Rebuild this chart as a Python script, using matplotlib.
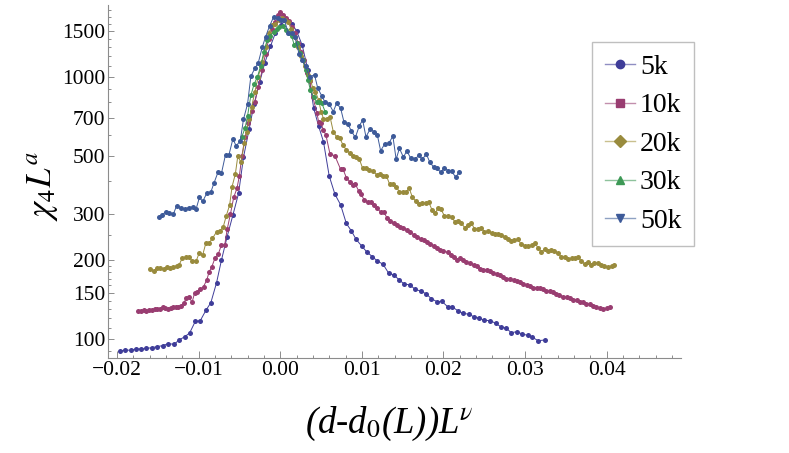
import matplotlib
matplotlib.use('Agg')
import matplotlib.pyplot as plt
from matplotlib.lines import Line2D
from matplotlib.ticker import FixedLocator, FixedFormatter, FuncFormatter, NullFormatter, MultipleLocator

plt.rcParams['font.family'] = ['Liberation Serif', 'DejaVu Serif']
plt.rcParams['mathtext.fontset'] = 'stix'

# (scaled distance, chi_4 L^a)
k5 = [(-0.0196, 90.0), (-0.0190, 90.8), (-0.0183, 90.5), (-0.0177, 91.6), (-0.0170, 91.6),
      (-0.0164, 92.1), (-0.0157, 92.6), (-0.0151, 93.5), (-0.0144, 94.3), (-0.0137, 96.0),
      (-0.0130, 95.4), (-0.0124, 99.1), (-0.0117, 102), (-0.0111, 105.4), (-0.0104, 116.8),
      (-0.0098, 117.4), (-0.0091, 128.7), (-0.0085, 137.6), (-0.0078, 164), (-0.0072, 200),
      (-0.0065, 246), (-0.0058, 297), (-0.0051, 360), (-0.0045, 494), (-0.0038, 634),
      (-0.0032, 790), (-0.0025, 960), (-0.0019, 1130), (-0.0012, 1310), (-0.0006, 1470),
      (0.0001, 1580), (0.0007, 1654), (0.0014, 1600), (0.0020, 1500), (0.0027, 1320),
      (0.0034, 1060), (0.0041, 760), (0.0047, 650), (0.0053, 566), (0.0060, 419),
      (0.0067, 357), (0.0074, 325), (0.0081, 276), (0.0087, 259), (0.0093, 240),
      (0.0100, 226), (0.0106, 215), (0.0113, 206), (0.0119, 198.5), (0.0126, 192.8),
      (0.0133, 178), (0.0139, 175.5), (0.0146, 168), (0.0152, 161.8), (0.0159, 161),
      (0.0165, 154.8), (0.0172, 152.4), (0.0179, 148.6), (0.0185, 142.6), (0.0192, 138.8),
      (0.0198, 139.2), (0.0205, 132.9), (0.0211, 132.5), (0.0218, 127.9), (0.0224, 125.3),
      (0.0231, 124.3), (0.0237, 121.7), (0.0244, 120), (0.0250, 117.8), (0.0257, 117.5),
      (0.0264, 114.8), (0.0270, 111.4), (0.0277, 109.9), (0.0283, 105.7), (0.0290, 106.6),
      (0.0296, 104.5), (0.0303, 103.3), (0.0309, 101.5), (0.0316, 98.5), (0.0324, 99.1)]

k10 = [(-0.0174, 127.9), (-0.0170, 128.2), (-0.0167, 128.7), (-0.0164, 128.2), (-0.0161, 128.7),
       (-0.0157, 129.0), (-0.0154, 129.8), (-0.0151, 130.2), (-0.0147, 130.5), (-0.0144, 132.1),
       (-0.0141, 131.0), (-0.0138, 130.5), (-0.0134, 131.3), (-0.0131, 132.1), (-0.0128, 132.5),
       (-0.0125, 132.9), (-0.0121, 133.7), (-0.0118, 136.9), (-0.0115, 143.8), (-0.0112, 145.1),
       (-0.0108, 138.0), (-0.0105, 149.5), (-0.0102, 151.5), (-0.0098, 154.8), (-0.0094, 158.3),
       (-0.0090, 168), (-0.0087, 180.6), (-0.0084, 187.8), (-0.0080, 203.4), (-0.0076, 210.6),
       (-0.0072, 228.4), (-0.0068, 228.4), (-0.0065, 262), (-0.0061, 300), (-0.0057, 347),
       (-0.0053, 376), (-0.0050, 420), (-0.0047, 500), (-0.0043, 591), (-0.0039, 665),
       (-0.0035, 740), (-0.0031, 800), (-0.0027, 916), (-0.0022, 1063), (-0.0018, 1228),
       (-0.0014, 1400), (-0.0010, 1530), (-0.0006, 1622), (-0.0003, 1720), (0.0000, 1766),
       (0.0004, 1720), (0.0007, 1674), (0.0011, 1638), (0.0014, 1558), (0.0018, 1470),
       (0.0022, 1347), (0.0026, 1250), (0.0029, 1160), (0.0033, 1040), (0.0036, 968),
       (0.0040, 838), (0.0045, 727), (0.0047, 675), (0.0050, 665), (0.0053, 627),
       (0.0056, 600), (0.0061, 508), (0.0067, 500), (0.0074, 444), (0.0077, 444),
       (0.0081, 413), (0.0085, 399), (0.0089, 387), (0.0092, 390), (0.0096, 368),
       (0.0099, 357), (0.0103, 339), (0.0107, 334), (0.0111, 332), (0.0115, 324),
       (0.0119, 315), (0.0123, 305), (0.0127, 305), (0.0131, 289), (0.0135, 283),
       (0.0139, 276), (0.0143, 272), (0.0147, 267), (0.0151, 266), (0.0155, 261),
       (0.0159, 255), (0.0164, 250), (0.0168, 244), (0.0172, 240), (0.0176, 239),
       (0.0180, 235), (0.0184, 231), (0.0188, 227), (0.0192, 222), (0.0196, 219),
       (0.0200, 217), (0.0205, 214), (0.0209, 210), (0.0213, 206), (0.0217, 200),
       (0.0220, 203), (0.0224, 200), (0.0228, 197), (0.0233, 195), (0.0237, 192),
       (0.0241, 190), (0.0245, 185), (0.0249, 184), (0.0253, 183), (0.0257, 181),
       (0.0261, 178), (0.0265, 177), (0.0269, 176), (0.0273, 173), (0.0277, 170),
       (0.0281, 170), (0.0286, 168), (0.0290, 166), (0.0294, 165), (0.0298, 162),
       (0.0302, 161), (0.0306, 159), (0.0310, 157), (0.0314, 157), (0.0318, 156),
       (0.0322, 155), (0.0326, 153), (0.0330, 152), (0.0334, 151), (0.0338, 148),
       (0.0342, 147), (0.0347, 145), (0.0351, 144), (0.0355, 143), (0.0359, 141),
       (0.0363, 141), (0.0367, 139), (0.0371, 138), (0.0375, 136), (0.0379, 136),
       (0.0383, 134), (0.0387, 133), (0.0392, 131), (0.0396, 130), (0.0400, 131),
       (0.0404, 133)]

k20 = [(-0.0159, 184.6), (-0.0155, 182.4), (-0.0151, 186.1), (-0.0147, 186.1), (-0.0143, 184.6),
       (-0.0139, 187.8), (-0.0135, 186.1), (-0.0131, 188.8), (-0.0127, 190), (-0.0124, 191.7),
       (-0.0120, 203.4), (-0.0116, 205.2), (-0.0112, 206.4), (-0.0108, 198.5), (-0.0103, 198.5),
       (-0.0099, 213.7), (-0.0095, 209.2), (-0.0091, 233), (-0.0087, 233), (-0.0083, 242),
       (-0.0078, 256.7), (-0.0074, 259), (-0.0070, 266.6), (-0.0066, 296), (-0.0062, 324.5),
       (-0.0059, 381.5), (-0.0055, 426), (-0.0052, 498), (-0.0048, 472), (-0.0044, 558),
       (-0.0041, 619), (-0.0038, 690), (-0.0035, 770), (-0.0031, 880), (-0.0027, 1000),
       (-0.0022, 1145), (-0.0018, 1300), (-0.0014, 1470), (-0.0010, 1577), (-0.0006, 1600),
       (-0.0002, 1650), (0.0002, 1676), (0.0006, 1650), (0.0010, 1622), (0.0013, 1530),
       (0.0018, 1423), (0.0022, 1300), (0.0026, 1198), (0.0030, 1097), (0.0034, 1020),
       (0.0037, 973), (0.0040, 906), (0.0043, 880), (0.0047, 818), (0.0050, 738),
       (0.0053, 694), (0.0057, 694), (0.0061, 705), (0.0065, 619), (0.0069, 591),
       (0.0073, 583), (0.0077, 550), (0.0081, 526), (0.0085, 514), (0.0089, 500),
       (0.0093, 493), (0.0097, 485), (0.0101, 448), (0.0105, 448), (0.0109, 442),
       (0.0114, 436), (0.0118, 424), (0.0122, 428), (0.0126, 418), (0.0130, 420),
       (0.0134, 390), (0.0138, 392), (0.0142, 381), (0.0146, 365), (0.0150, 363),
       (0.0154, 363), (0.0158, 376), (0.0162, 347), (0.0166, 336), (0.0170, 327.5),
       (0.0174, 329.5), (0.0178, 329.5), (0.0182, 332.4), (0.0186, 310.8), (0.0190, 301.8),
       (0.0193, 315.3), (0.0197, 312.6), (0.0201, 295.6), (0.0206, 294.8), (0.0210, 291.3),
       (0.0214, 280.4), (0.0218, 283), (0.0222, 276.4), (0.0226, 266.1), (0.0230, 272.4),
       (0.0234, 278), (0.0238, 263), (0.0242, 263), (0.0246, 266), (0.0250, 256.9),
       (0.0255, 258.4), (0.0259, 253.2), (0.0263, 251.7), (0.0267, 250.9), (0.0271, 249.4),
       (0.0275, 245.8), (0.0279, 241.5), (0.0283, 237.3), (0.0287, 238.7), (0.0291, 240.1),
       (0.0295, 230.5), (0.0300, 227.1), (0.0304, 226.4), (0.0308, 228.5), (0.0312, 233.2),
       (0.0316, 221.9), (0.0320, 215.4), (0.0324, 219.9), (0.0328, 216.7), (0.0332, 218.6),
       (0.0336, 216.7), (0.0340, 213.6), (0.0344, 206.2), (0.0349, 205), (0.0353, 201.4),
       (0.0357, 203.2), (0.0361, 203.2), (0.0365, 205), (0.0369, 198.5), (0.0373, 193.3),
       (0.0377, 197.3), (0.0381, 191.6), (0.0385, 194.5), (0.0389, 194.5), (0.0393, 191.6),
       (0.0397, 189.9), (0.0402, 188.8), (0.0406, 189.9), (0.0409, 191)]

k30 = [(-0.0047, 591), (-0.0043, 640), (-0.0040, 711), (-0.0036, 850), (-0.0032, 940),
       (-0.0028, 1000), (-0.0024, 1100), (-0.0020, 1250), (-0.0016, 1380), (-0.0012, 1440),
       (-0.0008, 1490), (-0.0004, 1530), (-0.0001, 1558), (0.0003, 1567), (0.0007, 1515),
       (0.0011, 1470), (0.0014, 1433), (0.0017, 1330), (0.0020, 1347), (0.0024, 1240),
       (0.0028, 1160), (0.0031, 1063), (0.0034, 975), (0.0037, 890), (0.0041, 838),
       (0.0045, 800), (0.0048, 800), (0.0051, 793), (0.0055, 738)]

k50 = [(-0.0149, 292.7), (-0.0145, 297.4), (-0.0140, 306.3), (-0.0136, 302), (-0.0131, 299.4),
       (-0.0127, 322), (-0.0122, 317.5), (-0.0117, 313.3), (-0.0112, 317.5), (-0.0107, 318.6),
       (-0.0103, 314), (-0.0099, 346.8), (-0.0095, 335), (-0.0090, 359.7), (-0.0085, 363.7),
       (-0.0081, 395), (-0.0076, 435), (-0.0072, 429), (-0.0067, 506), (-0.0063, 502),
       (-0.0058, 580), (-0.0054, 546), (-0.0049, 570), (-0.0045, 690), (-0.0040, 790),
       (-0.0036, 1006), (-0.0031, 1080), (-0.0027, 1130), (-0.0022, 1300), (-0.0018, 1423),
       (-0.0013, 1567), (-0.0008, 1698), (-0.0003, 1676), (0.0001, 1650), (0.0005, 1650),
       (0.0010, 1470), (0.0014, 1470), (0.0018, 1423), (0.0023, 1228), (0.0027, 1160),
       (0.0031, 1097), (0.0036, 1000), (0.0042, 1020), (0.0046, 906), (0.0051, 846),
       (0.0055, 800), (0.0060, 788), (0.0065, 738), (0.0069, 793), (0.0074, 760),
       (0.0078, 675), (0.0083, 661), (0.0087, 623), (0.0092, 588), (0.0097, 652),
       (0.0101, 685), (0.0105, 591), (0.0110, 631), (0.0115, 619), (0.0119, 600),
       (0.0123, 523), (0.0128, 555), (0.0133, 558), (0.0138, 595), (0.0142, 485),
       (0.0146, 534), (0.0151, 494), (0.0155, 523), (0.0160, 489), (0.0165, 485),
       (0.0170, 503), (0.0174, 485), (0.0179, 508), (0.0183, 475), (0.0188, 452),
       (0.0192, 448), (0.0197, 432), (0.0201, 451), (0.0206, 438), (0.0210, 436),
       (0.0215, 415), (0.0219, 432)]

labels = ["5k", "10k", "20k", "30k", "50k"]
series = [k5, k10, k20, k30, k50]
colors = ["#3f3d99", "#993d71", "#998b3d", "#3d9956", "#3d5a99"]
legend_markers = ["o", "s", "D", "^", "v"]

y_major = [100, 150, 200, 300, 500, 700, 1000, 1500]
y_minor = [90, 110, 120, 130, 140, 160, 170, 180, 190, 250, 400, 600, 800, 900,
           1100, 1200, 1300, 1400, 1600, 1700, 1800]
x_major = [-0.02, -0.01, 0.0, 0.01, 0.02, 0.03, 0.04]

serif = 'Liberation Serif'

fig = plt.figure(figsize=(7.89, 4.53), dpi=100)
ax = fig.add_axes([108 / 789, 1 - 358 / 453, (681 - 108) / 789, (358 - 5) / 453])

for pts, c in zip(series, colors):
    xs, ys = zip(*pts)
    ax.plot(xs, ys, '-', color=c, lw=0.7, marker='o', ms=3.6, mec=c, mfc=c, mew=0)

ax.set_yscale('log')
ax.set_xlim(-0.0211, 0.0491)
ax.set_ylim(84.6, 1883)

ax.yaxis.set_major_locator(FixedLocator(y_major))
ax.yaxis.set_major_formatter(FixedFormatter([str(v) for v in y_major]))
ax.yaxis.set_minor_locator(FixedLocator(y_minor))
ax.yaxis.set_minor_formatter(NullFormatter())
ax.xaxis.set_major_locator(FixedLocator(x_major))
ax.xaxis.set_major_formatter(FuncFormatter(lambda v, p: f"{v:.2f}".replace("-", "\u2212")))
ax.xaxis.set_minor_locator(MultipleLocator(0.002))

for s in ['top', 'right']:
    ax.spines[s].set_visible(False)
for s in ['left', 'bottom']:
    ax.spines[s].set_color('#8c8c8c')
    ax.spines[s].set_linewidth(0.8)

ax.tick_params(which='both', direction='in', color='#8c8c8c', labelsize=15.5, width=0.7)
ax.tick_params(axis='x', which='major', length=5, pad=2)
ax.tick_params(axis='x', which='minor', length=2.5)
ax.tick_params(axis='y', which='major', length=4, pad=2)
ax.tick_params(axis='y', which='minor', length=2.2)
for lbl in ax.get_xticklabels() + ax.get_yticklabels():
    lbl.set_fontfamily(serif)

fig.text(42 / 789, 1 - 186 / 453, r'$\chi_4L^a$', rotation=90, ha='center', va='center', fontsize=25)
fig.text(389 / 789, 1 - 424 / 453, r'(d-d$_{\mathit{0}}$(L))L$^{\nu}$', style='italic',
         family=serif, ha='center', va='center', fontsize=26.5)

light = ["#8f8ec2", "#c28fad", "#c9c08e", "#8ec29c", "#8ea1c2"]
handles = [Line2D([0], [0], color=l, lw=1.0, marker=m, ms=6, mfc=c, mec=c)
           for l, c, m in zip(light, colors, legend_markers)]
leg = ax.legend(handles, labels, loc='upper left', bbox_to_anchor=(592 / 789, 1 - 42 / 453),
                bbox_transform=fig.transFigure, prop={'family': serif, 'size': 20},
                frameon=True, fancybox=False, borderaxespad=0, borderpad=0.45,
                labelspacing=0.47, handlelength=1.08, handletextpad=0.2)
leg.get_frame().set_edgecolor('#b0b0b0')
leg.get_frame().set_linewidth(1.0)

fig.savefig('out.png', dpi=100)
